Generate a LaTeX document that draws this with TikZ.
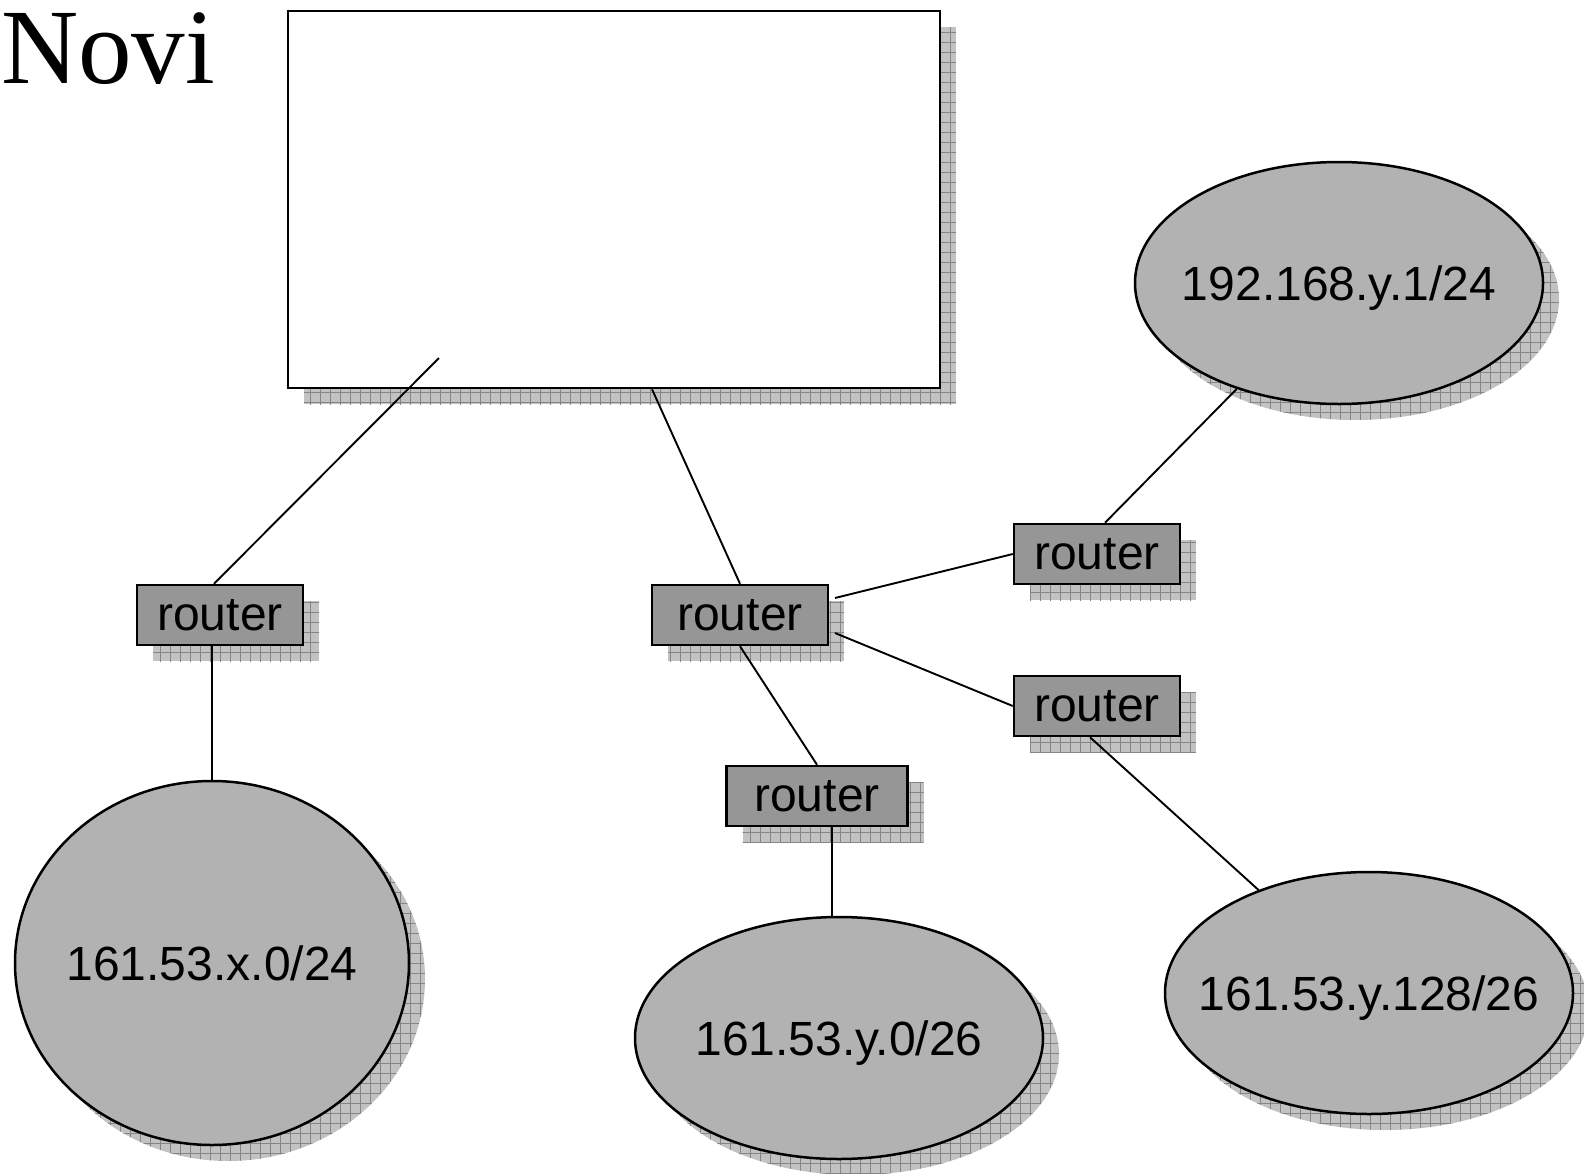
\documentclass[tikz,border=0pt]{standalone}
\usepackage{fontspec}
\setmainfont{Liberation Sans}
\newfontfamily\titlefont{Liberation Serif}
\usetikzlibrary{shapes.geometric,shadows,patterns.meta}

\definecolor{netgray}{gray}{0.70}
\definecolor{boxgray}{gray}{0.59}
\definecolor{shadegray}{gray}{0.76}
\definecolor{gridgray}{gray}{0.52}

% zero-width box so that a label does not widen its ellipse
\newcommand\netlabel[1]{\makebox[0pt]{#1}}

\tikzset{
  hatched shadow/.style={
    general shadow={shadow xshift=16pt, shadow yshift=-16pt,
      fill=shadegray,
      postaction={pattern={Hatch[angle=0,distance=10pt,line width=1pt]},
                  pattern color=gridgray}}},
  network/.style={ellipse, draw=black, line width=2.5pt, fill=netgray,
    inner sep=0pt, text height=34pt, text depth=0pt,
    font=\fontsize{48}{54}\selectfont, hatched shadow},
  routerbox/.style={rectangle, draw=black, line width=2.5pt, fill=boxgray,
    inner sep=0pt, minimum height=60pt, font=\fontsize{48}{54}\selectfont,
    hatched shadow},
  hostbox/.style={rectangle, draw=black, line width=2.5pt, fill=white,
    inner sep=0pt, hatched shadow},
  link/.style={draw=black, line width=1.9pt}
}

\begin{document}
\begin{tikzpicture}[x=1pt,y=-1pt]
\useasboundingbox (0,0) rectangle (1584,1173);

% title
\node[anchor=base west, inner sep=0pt, font=\titlefont\fontsize{107}{120}\selectfont]
  (title) at (1,83) {Novi};

% central host box
\node[hostbox, minimum width=652pt, minimum height=377pt] (host) at (614,199.5) {};
\coordinate (hostport) at (439,358);

% networks
\node[network, minimum width=408pt, minimum height=242pt] (netA) at (1339,283) {\netlabel{192.168.y.1/24}};
\node[network, minimum width=394pt, minimum height=364pt] (netB) at (212,963) {\netlabel{161.53.x.0/24}};
\node[network, minimum width=408pt, minimum height=242pt] (netC) at (839,1038) {\netlabel{161.53.y.0/26}};
\node[network, minimum width=408pt, minimum height=242pt] (netD) at (1369,993) {\netlabel{161.53.y.128/26}};

% routers
\node[routerbox, minimum width=166pt] (r1) at (220,615) {router};
\node[routerbox, minimum width=176pt] (r2) at (740,615) {router};
\node[routerbox, minimum width=166pt] (r3) at (1097,554) {router};
\node[routerbox, minimum width=166pt] (r4) at (1097,706) {router};
\node[routerbox, minimum width=181pt] (r5) at (817,796) {router};

% links
\draw[link] (hostport) -- ([xshift=-6pt]r1.north);
\draw[link] ([xshift=38pt]host.south) -- (r2.north);
\draw[link] ([xshift=-8pt]r1.south) -- ([xshift=-8pt]r1.south |- netB.north);
\draw[link] ([xshift=95pt,yshift=17pt]r2.center) -- (r3.west);
\draw[link] ([xshift=95pt,yshift=-18pt]r2.center) -- (r4.west);
\draw[link] (r2.south) -- (r5.north);
\draw[link] ([xshift=15pt]r5.south) -- ([xshift=15pt]r5.south |- netC.north);
\draw[link] ([xshift=8pt]r3.north) -- (netA.-134);
\draw[link] ([xshift=-7pt]r4.south) -- (netD.137);
\end{tikzpicture}
\end{document}
